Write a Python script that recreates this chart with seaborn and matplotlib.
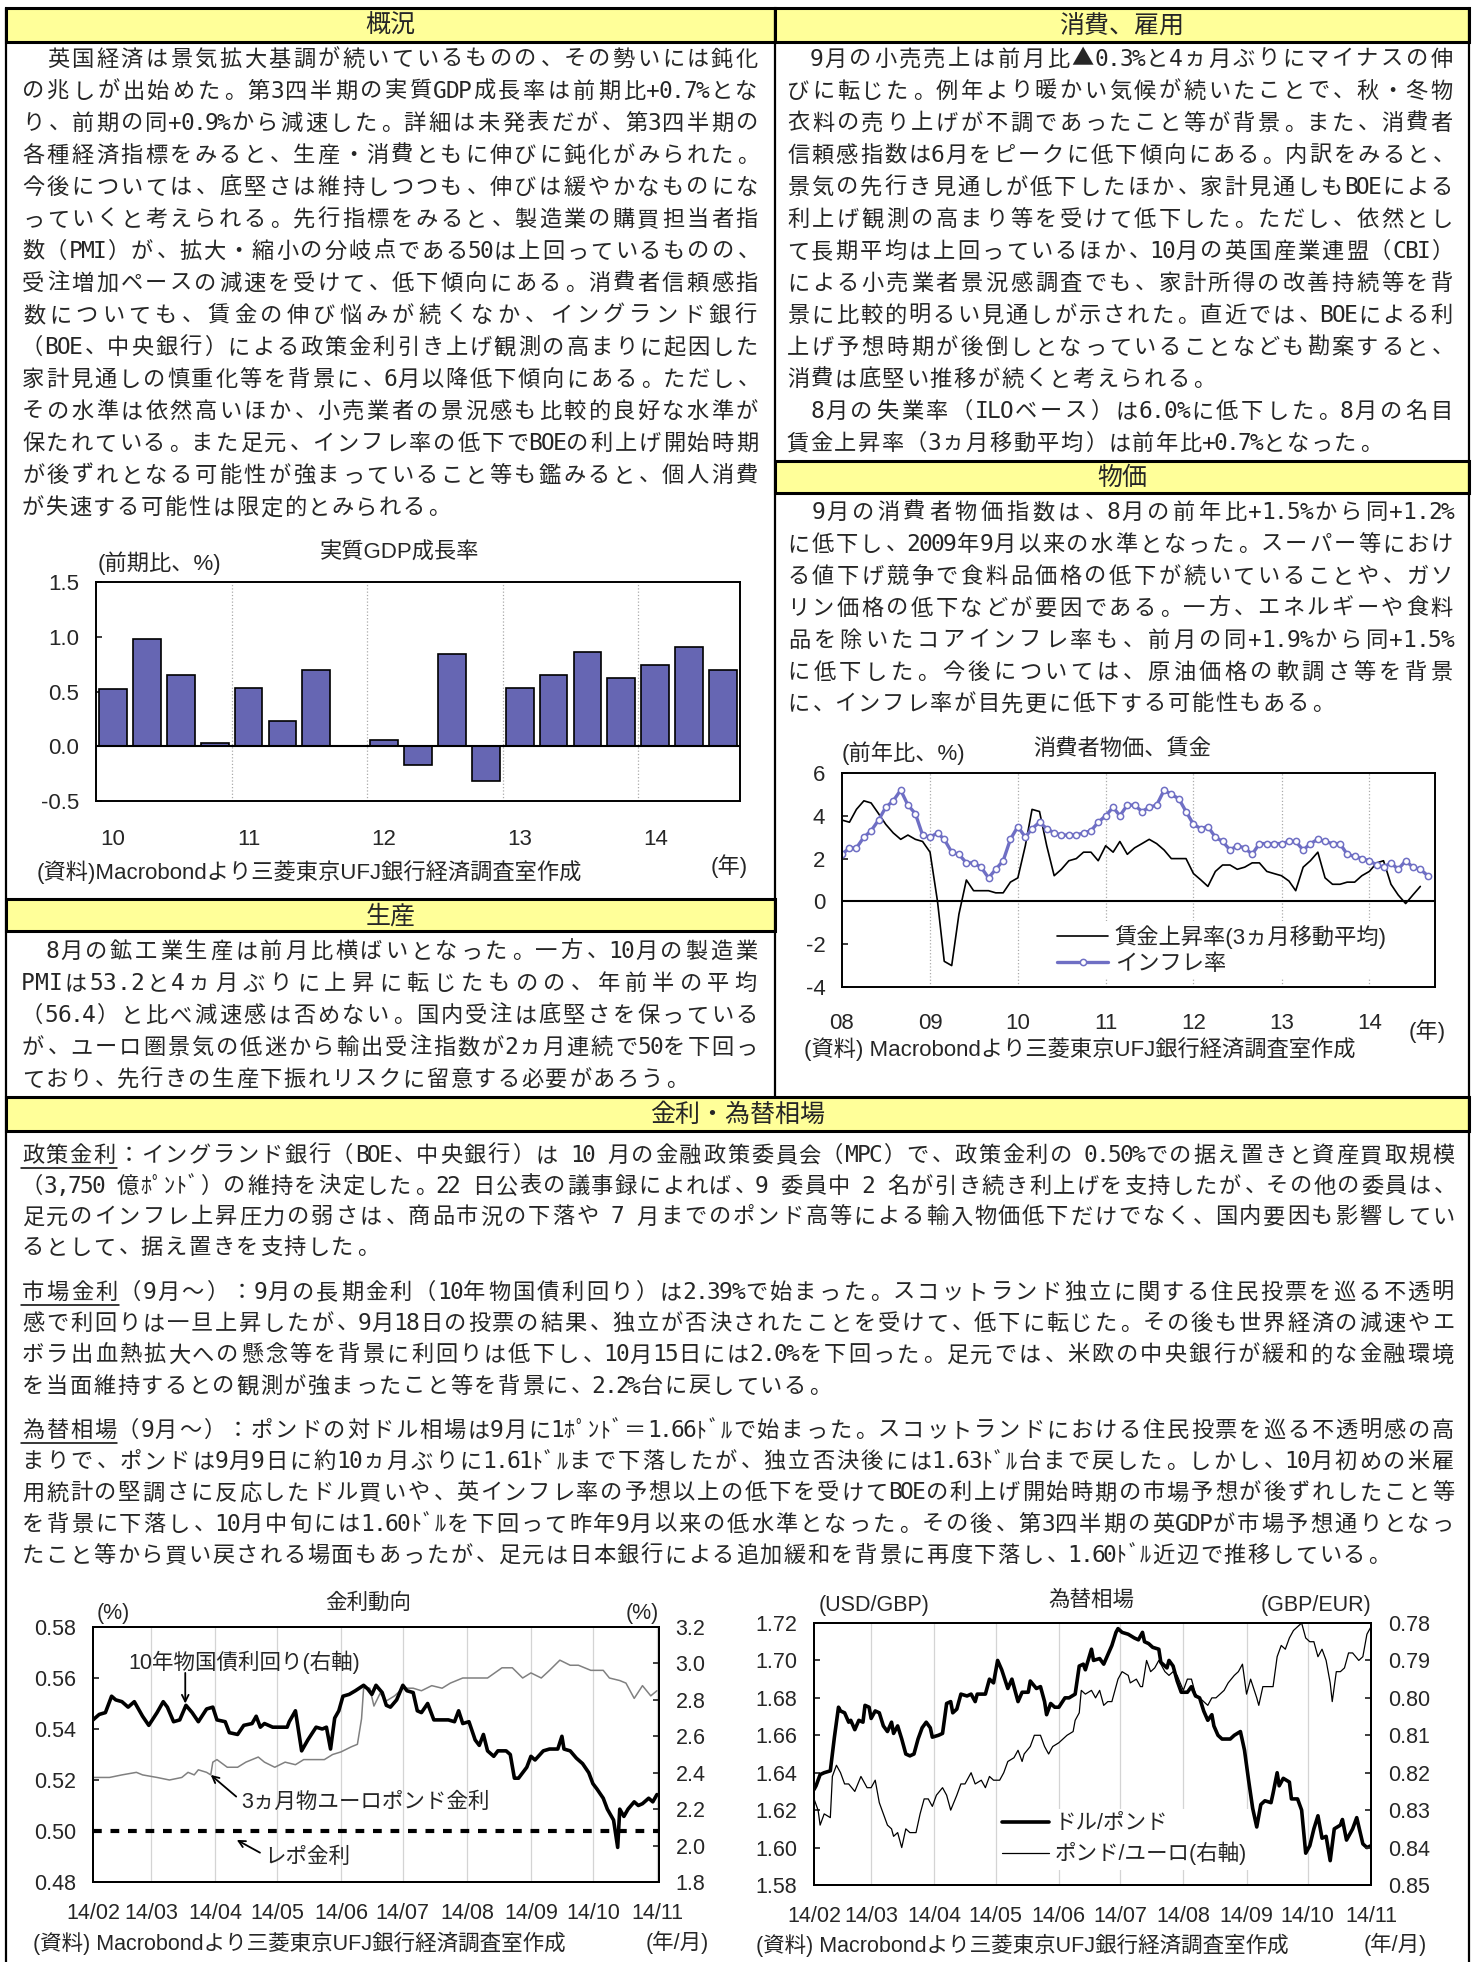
import unicodedata
import numpy as np
import pandas as pd
import matplotlib
matplotlib.use('Agg')
import matplotlib.pyplot as plt
from matplotlib.patches import Rectangle
from matplotlib.lines import Line2D
from matplotlib.ticker import FormatStrFormatter
import seaborn as sns

# ---------------- data ----------------
gdp_quarters = [f'{y}Q{q}' for y in range(2010, 2015) for q in range(1, 5)][:19]
gdp_growth = [0.52, 0.98, 0.65, 0.03, 0.53, 0.23, 0.70, 0.0, 0.06, -0.17,
              0.84, -0.32, 0.53, 0.65, 0.86, 0.62, 0.74, 0.91, 0.70]
gdp_years = ['10', '11', '12', '13', '14']

cpi_start = '2008-01-01'
inflation = [2.2, 2.5, 2.5, 3.0, 3.3, 3.8, 4.4, 4.7, 5.2, 4.5, 4.1, 3.1,
             3.0, 3.2, 2.9, 2.3, 2.2, 1.8, 1.8, 1.6, 1.1, 1.5, 1.9, 2.9,
             3.5, 3.0, 3.4, 3.7, 3.4, 3.2, 3.1, 3.1, 3.1, 3.2, 3.3, 3.7,
             4.0, 4.4, 4.0, 4.5, 4.5, 4.2, 4.4, 4.5, 5.2, 5.0, 4.8, 4.2,
             3.6, 3.4, 3.5, 3.0, 2.8, 2.4, 2.6, 2.5, 2.2, 2.7, 2.7, 2.7,
             2.7, 2.8, 2.8, 2.4, 2.7, 2.9, 2.8, 2.7, 2.7, 2.2, 2.1, 2.0,
             1.9, 1.7, 1.6, 1.8, 1.5, 1.9, 1.6, 1.5, 1.2]
wage_growth = [3.8, 3.7, 4.3, 4.7, 4.6, 4.1, 3.6, 3.2, 2.9, 3.1, 2.9, 2.8,
               2.3, 0.0, -2.8, -3.0, -0.6, 1.0, 0.5, 0.5, 0.5, 0.4, 0.4, 0.9,
               1.1, 2.6, 4.3, 4.2, 2.6, 1.2, 1.5, 1.9, 2.0, 2.3, 2.3, 1.9,
               2.6, 2.3, 2.8, 2.2, 2.5, 2.7, 2.9, 2.7, 2.4, 2.0, 2.0, 2.0,
               1.3, 1.0, 0.7, 1.4, 1.7, 1.7, 1.5, 1.6, 1.8, 1.8, 1.4, 1.3,
               1.2, 0.95, 0.5, 1.6, 1.9, 2.3, 1.1, 0.8, 0.8, 0.9, 0.9, 1.2,
               1.4, 1.8, 1.9, 0.8, 0.3, -0.1, 0.3, 0.7]
cpi_years = ['08', '09', '10', '11', '12', '13', '14']

# daily market data, read as (days after 2014-02-01, value)
rates_start = '2014-02-01'
gilt_days = [0, 3, 6, 9, 11, 14, 17, 20, 24, 27,
             31, 34, 36, 39, 42, 45, 48, 51, 55, 58,
             60, 64, 66, 70, 73, 77, 79, 81, 83, 87,
             90, 94, 95, 98, 101, 104, 108, 111, 113, 115,
             117, 119, 121, 124, 127, 131, 133, 135, 137, 140,
             142, 144, 147, 150, 152, 155, 157, 159, 162, 165,
             169, 172, 175, 177, 179, 182, 185, 187, 189, 191,
             194, 196, 200, 202, 204, 206, 210, 212, 214, 218,
             221, 225, 227, 228, 231, 234, 237, 240, 242, 244,
             247, 249, 252, 254, 255, 257, 259, 262, 264, 266,
             269, 271, 273]
gilt_10y = [2.69, 2.72, 2.73, 2.82, 2.80, 2.79, 2.76, 2.79, 2.71, 2.66,
            2.73, 2.79, 2.76, 2.68, 2.69, 2.77, 2.73, 2.68, 2.75, 2.76,
            2.69, 2.68, 2.62, 2.61, 2.66, 2.67, 2.71, 2.65, 2.67, 2.65,
            2.65, 2.65, 2.68, 2.74, 2.52, 2.58, 2.65, 2.64, 2.65, 2.53,
            2.70, 2.74, 2.82, 2.83, 2.85, 2.88, 2.86, 2.83, 2.88, 2.84,
            2.77, 2.76, 2.80, 2.88, 2.85, 2.84, 2.74, 2.73, 2.78, 2.69,
            2.69, 2.69, 2.68, 2.74, 2.67, 2.68, 2.58, 2.55, 2.61, 2.52,
            2.49, 2.52, 2.52, 2.50, 2.37, 2.37, 2.43, 2.49, 2.47, 2.52,
            2.53, 2.53, 2.60, 2.53, 2.52, 2.48, 2.45, 2.40, 2.34, 2.31,
            2.26, 2.20, 2.14, 1.99, 2.20, 2.16, 2.20, 2.24, 2.22, 2.23,
            2.26, 2.24, 2.28]
euro3m_days = [0, 8, 14, 21, 24, 31, 37, 43, 46, 49,
               51, 55, 57, 58, 60, 65, 70, 74, 80, 83,
               88, 93, 98, 102, 106, 112, 116, 120, 125, 128,
               130, 131, 134, 136, 139, 142, 146, 150, 155, 159,
               164, 169, 173, 179, 185, 191, 198, 203, 208, 212,
               217, 221, 226, 231, 235, 241, 247, 250, 255, 258,
               262, 266, 270, 273]
euro3m = [0.521, 0.521, 0.522, 0.523, 0.522, 0.521, 0.520, 0.521, 0.523, 0.522,
          0.524, 0.523, 0.522, 0.527, 0.528, 0.525, 0.525, 0.527, 0.529, 0.527,
          0.525, 0.527, 0.526, 0.528, 0.528, 0.528, 0.530, 0.531, 0.533, 0.534,
          0.544, 0.556, 0.556, 0.549, 0.554, 0.551, 0.553, 0.556, 0.556, 0.555,
          0.557, 0.556, 0.558, 0.560, 0.560, 0.560, 0.564, 0.564, 0.560, 0.562,
          0.560, 0.563, 0.567, 0.565, 0.565, 0.563, 0.563, 0.560, 0.559, 0.558,
          0.552, 0.557, 0.553, 0.555]
repo_dates = ['2014-02-01', '2014-11-02']
repo_rate = [0.50, 0.50]

usd_days = [0, 1, 3, 5, 8, 9, 10, 12, 13, 15,
            17, 18, 20, 22, 24, 25, 27, 28, 30, 32,
            34, 36, 38, 39, 41, 43, 45, 47, 49, 51,
            53, 55, 57, 58, 61, 63, 65, 67, 68, 70,
            72, 75, 77, 79, 80, 84, 86, 88, 90, 92,
            95, 97, 100, 102, 105, 106, 109, 111, 113, 114,
            116, 118, 120, 123, 125, 128, 130, 132, 133, 136,
            137, 140, 142, 144, 146, 148, 149, 151, 154, 157,
            159, 161, 162, 164, 166, 169, 170, 173, 174, 176,
            178, 180, 183, 185, 187, 189, 191, 193, 195, 196,
            198, 200, 204, 206, 209, 211, 213, 215, 217, 219,
            221, 224, 225, 227, 228, 230, 233, 234, 237, 239,
            241, 243, 245, 247, 249, 251, 253, 255, 258, 259,
            261, 264, 266, 269, 271, 273]
usd_gbp = [1.631, 1.633, 1.639, 1.640, 1.641, 1.650, 1.659, 1.675, 1.673, 1.672,
           1.667, 1.668, 1.663, 1.668, 1.667, 1.676, 1.675, 1.669, 1.673, 1.672,
           1.665, 1.662, 1.667, 1.661, 1.665, 1.658, 1.650, 1.649, 1.650, 1.658,
           1.664, 1.667, 1.664, 1.659, 1.660, 1.661, 1.677, 1.678, 1.672, 1.674,
           1.682, 1.681, 1.682, 1.678, 1.682, 1.682, 1.690, 1.688, 1.700, 1.695,
           1.685, 1.690, 1.678, 1.683, 1.683, 1.689, 1.685, 1.686, 1.678, 1.671,
           1.677, 1.675, 1.675, 1.680, 1.680, 1.682, 1.697, 1.698, 1.695, 1.706,
           1.700, 1.701, 1.698, 1.703, 1.708, 1.715, 1.717, 1.715, 1.714, 1.712,
           1.711, 1.715, 1.710, 1.709, 1.707, 1.706, 1.699, 1.696, 1.700, 1.697,
           1.689, 1.683, 1.683, 1.686, 1.681, 1.680, 1.673, 1.668, 1.671, 1.665,
           1.660, 1.658, 1.658, 1.660, 1.662, 1.652, 1.636, 1.621, 1.611, 1.623,
           1.625, 1.624, 1.629, 1.640, 1.633, 1.637, 1.635, 1.626, 1.626, 1.620,
           1.597, 1.601, 1.610, 1.617, 1.605, 1.606, 1.593, 1.610, 1.612, 1.615,
           1.604, 1.610, 1.616, 1.602, 1.600, 1.601]
eur_days = [0, 2, 3, 5, 8, 9, 11, 13, 15, 17,
            20, 23, 26, 28, 30, 32, 34, 36, 38, 39,
            41, 43, 45, 47, 50, 52, 54, 56, 58, 60,
            63, 65, 67, 70, 72, 74, 77, 79, 82, 84,
            86, 88, 91, 93, 95, 98, 100, 102, 103, 106,
            108, 111, 113, 115, 117, 120, 122, 124, 127, 128,
            130, 131, 133, 136, 138, 140, 142, 144, 146, 149,
            151, 154, 155, 158, 160, 161, 163, 165, 167, 169,
            172, 174, 176, 178, 181, 183, 185, 187, 189, 191,
            193, 195, 197, 199, 201, 203, 206, 208, 210, 212,
            214, 217, 218, 220, 222, 225, 227, 229, 231, 233,
            235, 237, 239, 241, 243, 245, 247, 249, 251, 253,
            254, 256, 258, 260, 262, 264, 267, 269, 271, 273]
gbp_eur = [0.827, 0.830, 0.834, 0.831, 0.832, 0.821, 0.818, 0.820, 0.823, 0.823,
           0.825, 0.821, 0.824, 0.824, 0.822, 0.828, 0.831, 0.834, 0.835, 0.837,
           0.836, 0.840, 0.835, 0.836, 0.836, 0.831, 0.827, 0.827, 0.829, 0.826,
           0.824, 0.826, 0.830, 0.826, 0.823, 0.823, 0.820, 0.823, 0.822, 0.824,
           0.821, 0.822, 0.822, 0.820, 0.817, 0.816, 0.814, 0.817, 0.815, 0.813,
           0.810, 0.810, 0.813, 0.815, 0.813, 0.812, 0.811, 0.810, 0.809, 0.806,
           0.804, 0.798, 0.799, 0.798, 0.800, 0.798, 0.802, 0.801, 0.801, 0.795,
           0.793, 0.794, 0.796, 0.795, 0.797, 0.797, 0.790, 0.793, 0.792, 0.790,
           0.793, 0.794, 0.793, 0.794, 0.798, 0.795, 0.795, 0.799, 0.800, 0.801,
           0.802, 0.800, 0.800, 0.799, 0.798, 0.796, 0.794, 0.793, 0.791, 0.799,
           0.795, 0.800, 0.802, 0.797, 0.797, 0.797, 0.789, 0.786, 0.787, 0.784,
           0.782, 0.781, 0.780, 0.784, 0.785, 0.785, 0.789, 0.787, 0.790, 0.796,
           0.801, 0.793, 0.793, 0.792, 0.788, 0.788, 0.790, 0.789, 0.783, 0.781]

# ---------------- text ----------------
gaikyo = [[
    '　英国経済は景気拡大基調が続いているものの、その勢いには鈍化',
    'の兆しが出始めた。第3四半期の実質GDP成長率は前期比+0.7%とな',
    'り、前期の同+0.9%から減速した。詳細は未発表だが、第3四半期の',
    '各種経済指標をみると、生産・消費ともに伸びに鈍化がみられた。',
    '今後については、底堅さは維持しつつも、伸びは緩やかなものにな',
    'っていくと考えられる。先行指標をみると、製造業の購買担当者指',
    '数（PMI）が、拡大・縮小の分岐点である50は上回っているものの、',
    '受注増加ペースの減速を受けて、低下傾向にある。消費者信頼感指',
    '数についても、賃金の伸び悩みが続くなか、イングランド銀行',
    '（BOE、中央銀行）による政策金利引き上げ観測の高まりに起因した',
    '家計見通しの慎重化等を背景に、6月以降低下傾向にある。ただし、',
    'その水準は依然高いほか、小売業者の景況感も比較的良好な水準が',
    '保たれている。また足元、インフレ率の低下でBOEの利上げ開始時期',
    'が後ずれとなる可能性が強まっていること等も鑑みると、個人消費',
    'が失速する可能性は限定的とみられる。']]
shohi = [[
    '　9月の小売売上は前月比▲0.3%と4ヵ月ぶりにマイナスの伸',
    'びに転じた。例年より暖かい気候が続いたことで、秋・冬物',
    '衣料の売り上げが不調であったこと等が背景。また、消費者',
    '信頼感指数は6月をピークに低下傾向にある。内訳をみると、',
    '景気の先行き見通しが低下したほか、家計見通しもBOEによる',
    '利上げ観測の高まり等を受けて低下した。ただし、依然とし',
    'て長期平均は上回っているほか、10月の英国産業連盟（CBI）',
    'による小売業者景況感調査でも、家計所得の改善持続等を背',
    '景に比較的明るい見通しが示された。直近では、BOEによる利',
    '上げ予想時期が後倒しとなっていることなども勘案すると、',
    '消費は底堅い推移が続くと考えられる。'], [
    '　8月の失業率（ILOベース）は6.0%に低下した。8月の名目',
    '賃金上昇率（3ヵ月移動平均）は前年比+0.7%となった。']]
bukka = [[
    '　9月の消費者物価指数は、8月の前年比+1.5%から同+1.2%',
    'に低下し、2009年9月以来の水準となった。スーパー等におけ',
    'る値下げ競争で食料品価格の低下が続いていることや、ガソ',
    'リン価格の低下などが要因である。一方、エネルギーや食料',
    '品を除いたコアインフレ率も、前月の同+1.9%から同+1.5%',
    'に低下した。今後については、原油価格の軟調さ等を背景',
    'に、インフレ率が目先更に低下する可能性もある。']]
seisan = [[
    '　8月の鉱工業生産は前月比横ばいとなった。一方、10月の製造業',
    'PMIは53.2と4ヵ月ぶりに上昇に転じたものの、年前半の平均',
    '（56.4）と比べ減速感は否めない。国内受注は底堅さを保っている',
    'が、ユーロ圏景気の低迷から輸出受注指数が2ヵ月連続で50を下回っ',
    'ており、先行きの生産下振れリスクに留意する必要があろう。']]
kinri_p1 = [
    '政策金利：イングランド銀行（BOE、中央銀行）は 10 月の金融政策委員会（MPC）で、政策金利の 0.50%での据え置きと資産買取規模',
    '（3,750 億ﾎﾟﾝﾄﾞ）の維持を決定した。22 日公表の議事録によれば、9 委員中 2 名が引き続き利上げを支持したが、その他の委員は、',
    '足元のインフレ上昇圧力の弱さは、商品市況の下落や 7 月までのポンド高等による輸入物価低下だけでなく、国内要因も影響してい',
    'るとして、据え置きを支持した。']
kinri_p2 = [
    '市場金利（9月～）：9月の長期金利（10年物国債利回り）は2.39%で始まった。スコットランド独立に関する住民投票を巡る不透明',
    '感で利回りは一旦上昇したが、9月18日の投票の結果、独立が否決されたことを受けて、低下に転じた。その後も世界経済の減速やエ',
    'ボラ出血熱拡大への懸念等を背景に利回りは低下し、10月15日には2.0%を下回った。足元では、米欧の中央銀行が緩和的な金融環境',
    'を当面維持するとの観測が強まったこと等を背景に、2.2%台に戻している。']
kinri_p3 = [
    '為替相場（9月～）：ポンドの対ドル相場は9月に1ﾎﾟﾝﾄﾞ＝1.66ﾄﾞﾙで始まった。スコットランドにおける住民投票を巡る不透明感の高',
    'まりで、ポンドは9月9日に約10ヵ月ぶりに1.61ﾄﾞﾙまで下落したが、独立否決後には1.63ﾄﾞﾙ台まで戻した。しかし、10月初めの米雇',
    '用統計の堅調さに反応したドル買いや、英インフレ率の予想以上の低下を受けてBOEの利上げ開始時期の市場予想が後ずれしたこと等',
    'を背景に下落し、10月中旬には1.60ﾄﾞﾙを下回って昨年9月以来の低水準となった。その後、第3四半期の英GDPが市場予想通りとなっ',
    'たこと等から買い戻される場面もあったが、足元は日本銀行による追加緩和を背景に再度下落し、1.60ﾄﾞﾙ近辺で推移している。']
source_text = '(資料) Macrobondより三菱東京UFJ銀行経済調査室作成'

# ---------------- style ----------------
sns.set_theme(style='white')
plt.rcParams['font.family'] = ['Liberation Sans', 'Noto Sans CJK JP', 'DejaVu Sans']
plt.rcParams['axes.unicode_minus'] = False

BODY = ['Noto Sans CJK JP', 'DejaVu Sans']
MONO = ['DejaVu Sans Mono']
CHART = ['Liberation Sans', 'Noto Sans CJK JP']
YELLOW = '#ffff99'
BAR_BLUE = '#6666b3'
CPI_BLUE = '#6f6fc4'
EM = 23.8

W, H = 1475, 1962
fig = plt.figure(figsize=(W / 100, H / 100), dpi=100)
fig.patch.set_facecolor('white')


def fx(x):
    return x / W


def fy(y):
    return 1 - y / H


def vline(x, y0, y1, lw=1.6):
    fig.add_artist(Line2D([fx(x), fx(x)], [fy(y0), fy(y1)], transform=fig.transFigure,
                          color='black', lw=lw))


def hline(x0, x1, y, lw=1.2):
    fig.add_artist(Line2D([fx(x0), fx(x1)], [fy(y), fy(y)], transform=fig.transFigure,
                          color='black', lw=lw))


def header(x0, x1, y0, y1, label):
    fig.add_artist(Rectangle((fx(x0), fy(y1)), fx(x1) - fx(x0), fy(y0) - fy(y1),
                             transform=fig.transFigure, facecolor=YELLOW,
                             edgecolor='black', lw=2.2))
    fig.text(fx((x0 + x1) / 2), fy((y0 + y1) / 2 + 1), label, ha='center', va='center',
             family=BODY, fontsize=18)


def is_wide(ch):
    return unicodedata.east_asian_width(ch) in ('F', 'W', 'A')


def body_line(s, x0, x1, y, justify=True):
    units = [1.0 if is_wide(c) else 0.5 for c in s]
    cell = (x1 - x0) / sum(units) if justify else EM
    base = y + 8
    pos = x0
    for c, u in zip(s, units):
        w = u * cell
        if c.strip():
            if c in '、。':
                xc, ha = pos + 0.12 * w, 'left'
            elif c in '）':
                xc, ha = pos + 0.1 * w, 'left'
            elif c in '（':
                xc, ha = pos + 0.9 * w, 'right'
            else:
                xc, ha = pos + w / 2, 'center'
            if ord(c) < 0x80:
                fig.text(fx(xc), fy(base), c, ha=ha, va='baseline', family=MONO, fontsize=16.5)
            else:
                fig.text(fx(xc), fy(base), c, ha=ha, va='baseline', family=BODY, fontsize=16)
        pos += w
    return cell


def block(paragraphs, x0, x1, y0, step):
    i = 0
    for para in paragraphs:
        for j, s in enumerate(para):
            body_line(s, x0, x1, y0 + i * step, justify=(j < len(para) - 1))
            i += 1


def underlined_para(lines, x0, x1, y0, step):
    for j, s in enumerate(lines):
        cell = body_line(s, x0, x1, y0 + j * step, justify=(j < len(lines) - 1))
        if j == 0:
            hline(x0, x0 + 4 * cell, y0 + 14, lw=1.1)


def chart_text(x, y, s, ha='left', size=16):
    fig.text(fx(x), fy(y), s, ha=ha, va='center', fontsize=size, family=CHART)


def frame(ax, lw=1.4):
    for sp in ax.spines.values():
        sp.set_visible(True)
        sp.set_color('black')
        sp.set_linewidth(lw)


# ---------------- page frame & headers ----------------
vline(6, 8, H)
vline(1469, 8, H)
vline(775, 8, 1097)
header(6, 775, 8, 42, '概況')
header(775, 1469, 8, 42, '消費、雇用')
header(775, 1469, 461, 493, '物価')
header(6, 775, 899, 931, '生産')
header(6, 1469, 1097, 1131, '金利・為替相場')

block(gaikyo, 21, 759, 57.5, 32.05)
block(shohi, 786, 1454, 57.5, 32.05)
block(bukka, 786, 1454, 511, 31.9)
block(seisan, 21, 759, 950, 32)
underlined_para(kinri_p1, 21, 1455, 1154, 30.7)
underlined_para(kinri_p2, 21, 1455, 1291, 31.2)
underlined_para(kinri_p3, 21, 1455, 1429, 31.2)

# ---------------- GDP chart ----------------
ax = fig.add_axes([fx(96), fy(801), 644 / W, 219 / H])
sns.barplot(x=gdp_quarters, y=gdp_growth, color=BAR_BLUE, saturation=1,
            edgecolor='black', linewidth=1.2, width=0.82, ax=ax)
ax.set_xlim(-0.5, len(gdp_quarters) - 0.5)
ax.set_ylim(-0.5, 1.5)
ax.set_yticks(np.arange(-0.5, 1.51, 0.5))
ax.yaxis.set_major_formatter(FormatStrFormatter('%.1f'))
for i in range(4, len(gdp_quarters), 4):
    ax.axvline(i - 0.5, color='#aaaaaa', lw=0.9, ls=':', zorder=0)
ax.axhline(0, color='black', lw=1.5)
ax.set_xticks(range(0, len(gdp_quarters), 4))
ax.set_xticklabels(gdp_years)
ax.tick_params(axis='x', length=0, pad=20, labelsize=16)
ax.tick_params(axis='y', direction='in', length=4, pad=12, labelsize=16, left=True)
ax.set_xlabel('')
ax.set_ylabel('')
frame(ax)
chart_text(400, 553, '実質GDP成長率', ha='center')
chart_text(98, 563, '(前期比、%)')
chart_text(729, 866, '(年)', ha='center')
chart_text(37, 872, '(資料)Macrobondより三菱東京UFJ銀行経済調査室作成')

# ---------------- CPI & wage chart ----------------
cpi_dates = pd.date_range(cpi_start, periods=len(inflation), freq='MS')
wage_dates = cpi_dates[:len(wage_growth)]
year_starts = pd.date_range(cpi_start, periods=len(cpi_years), freq='YS')
ax = fig.add_axes([fx(842), fy(987), 593 / W, 214 / H])
for d in year_starts[1:]:
    ax.axvline(d, color='#aaaaaa', lw=0.9, ls=':', zorder=0)
ax.axhline(0, color='black', lw=1.5)
sns.lineplot(x=wage_dates, y=wage_growth, color='black', lw=1.2,
             label='賃金上昇率(3ヵ月移動平均)', ax=ax)
sns.lineplot(x=cpi_dates, y=inflation, color=CPI_BLUE, lw=2.4, marker='o', ms=4.5,
             mfc='white', mec=CPI_BLUE, mew=1.1, label='インフレ率', ax=ax)
ax.set_xlim(pd.Timestamp('2008-01-01'), pd.Timestamp('2014-10-01'))
ax.set_ylim(-4, 6)
ax.set_yticks(range(-4, 7, 2))
ax.set_xticks(year_starts)
ax.set_xticklabels(cpi_years)
ax.tick_params(axis='x', length=0, pad=19, labelsize=16)
ax.tick_params(axis='y', direction='in', length=4, pad=12, labelsize=16, left=True)
ax.set_xlabel('')
ax.set_ylabel('')
frame(ax)
leg = ax.legend(loc='upper left', bbox_to_anchor=(0.355, 0.31), frameon=True,
                facecolor='white', edgecolor='none', framealpha=1, fancybox=False,
                fontsize=16, handlelength=2.3, handletextpad=0.3, borderpad=0.2,
                labelspacing=0.2, borderaxespad=0)
chart_text(1122, 749, '消費者物価、賃金', ha='center')
chart_text(842, 753, '(前年比、%)')
chart_text(1427, 1031, '(年)', ha='center')
chart_text(804, 1049, source_text)

# ---------------- interest rate chart ----------------
base = pd.Timestamp(rates_start)
month_starts = pd.date_range(rates_start, '2014-11-01', freq='MS')
month_labels = [d.strftime('%y/%m') for d in month_starts]
gilt_dates = base + pd.to_timedelta(gilt_days, unit='D')
euro3m_dates = base + pd.to_timedelta(euro3m_days, unit='D')

ax = fig.add_axes([fx(93), fy(1882), 566 / W, 255 / H])
for d in month_starts[1:]:
    ax.axvline(d, color='#d4d4d4', lw=0.9, zorder=0)
sns.lineplot(x=euro3m_dates, y=euro3m, color='#808080', lw=1.1, ax=ax)
sns.lineplot(x=pd.to_datetime(repo_dates), y=repo_rate, color='black', lw=3,
             linestyle=(0, (2.1, 2.1)), ax=ax)
ax.set_ylim(0.48, 0.58)
ax.set_yticks(np.arange(0.48, 0.581, 0.02))
ax.yaxis.set_major_formatter(FormatStrFormatter('%.2f'))
ax2 = ax.twinx()
sns.lineplot(x=gilt_dates, y=gilt_10y, color='black', lw=2.6, ax=ax2)
ax2.set_ylim(1.8, 3.2)
ax2.set_yticks(np.arange(1.8, 3.21, 0.2))
ax2.yaxis.set_major_formatter(FormatStrFormatter('%.1f'))
ax.set_xlim(base, pd.Timestamp('2014-11-02'))
ax.set_xticks(month_starts)
ax.set_xticklabels(month_labels)
ax.tick_params(axis='x', length=0, pad=15, labelsize=15.5)
ax.tick_params(axis='y', direction='in', length=4, pad=12, labelsize=15.5, left=True)
ax2.tick_params(axis='y', direction='in', length=4, pad=12, labelsize=15.5, right=True)
for a in (ax, ax2):
    a.set_xlabel('')
    a.set_ylabel('')
    frame(a)
arrow = dict(arrowstyle='->', lw=1.3, color='black', shrinkA=0, shrinkB=0)
ax2.text(0.267, 0.863, '10年物国債利回り(右軸)', transform=ax2.transAxes, ha='center',
         va='center', fontsize=15.5, family=CHART)
ax2.annotate('', xy=(0.163, 0.70), xytext=(0.163, 0.82), xycoords='axes fraction',
             arrowprops=arrow)
ax2.text(0.262, 0.314, '3ヵ月物ユーロポンド金利', transform=ax2.transAxes, ha='left',
         va='center', fontsize=15.5, family=CHART)
ax2.annotate('', xy=(0.208, 0.42), xytext=(0.253, 0.335), xycoords='axes fraction',
             arrowprops=arrow)
ax2.text(0.302, 0.098, 'レポ金利', transform=ax2.transAxes, ha='left', va='center',
         fontsize=15.5, family=CHART)
ax2.annotate('', xy=(0.254, 0.165), xytext=(0.295, 0.115), xycoords='axes fraction',
             arrowprops=arrow)
chart_text(368, 1603, '金利動向', ha='center', size=15.5)
chart_text(97, 1613, '(%)', size=15.5)
chart_text(659, 1613, '(%)', ha='right', size=15.5)
chart_text(677, 1942, '(年/月)', ha='center', size=15.5)
chart_text(33, 1943, source_text, size=15.5)

# ---------------- FX chart ----------------
usd_dates = base + pd.to_timedelta(usd_days, unit='D')
eur_dates = base + pd.to_timedelta(eur_days, unit='D')
ax = fig.add_axes([fx(814), fy(1885), 557 / W, 262 / H])
for d in month_starts[1:]:
    ax.axvline(d, color='#d4d4d4', lw=0.9, zorder=0)
sns.lineplot(x=usd_dates, y=usd_gbp, color='black', lw=2.6, ax=ax)
ax.set_ylim(1.58, 1.72)
ax.set_yticks(np.arange(1.58, 1.721, 0.02))
ax.yaxis.set_major_formatter(FormatStrFormatter('%.2f'))
ax2 = ax.twinx()
sns.lineplot(x=eur_dates, y=gbp_eur, color='black', lw=0.9, ax=ax2)
ax2.set_ylim(0.85, 0.78)
ax2.set_yticks(np.arange(0.78, 0.851, 0.01))
ax2.yaxis.set_major_formatter(FormatStrFormatter('%.2f'))
ax.set_xlim(base, pd.Timestamp('2014-11-01'))
ax.set_xticks(month_starts)
ax.set_xticklabels(month_labels)
ax.tick_params(axis='x', length=0, pad=15, labelsize=15.5)
ax.tick_params(axis='y', direction='in', length=4, pad=12, labelsize=15.5, left=True)
ax2.tick_params(axis='y', direction='in', length=4, pad=12, labelsize=15.5, right=True)
for a in (ax, ax2):
    a.set_xlabel('')
    a.set_ylabel('')
    frame(a)
handles = [Line2D([], [], color='black', lw=2.6), Line2D([], [], color='black', lw=0.9)]
ax2.legend(handles, ['ドル/ポンド', 'ポンド/ユーロ(右軸)'], loc='upper left',
           bbox_to_anchor=(0.33, 0.29), frameon=True, facecolor='white', edgecolor='none',
           framealpha=1, fancybox=False, fontsize=15.5, handlelength=2.2,
           handletextpad=0.25, borderpad=0.2, labelspacing=0.35, borderaxespad=0)
chart_text(1091, 1600, '為替相場', ha='center', size=15.5)
chart_text(819, 1605, '(USD/GBP)', size=15.5)
chart_text(1371, 1605, '(GBP/EUR)', ha='right', size=15.5)
chart_text(1395, 1944, '(年/月)', ha='center', size=15.5)
chart_text(756, 1945, source_text, size=15.5)

fig.savefig('out.png', dpi=100, facecolor='white')
